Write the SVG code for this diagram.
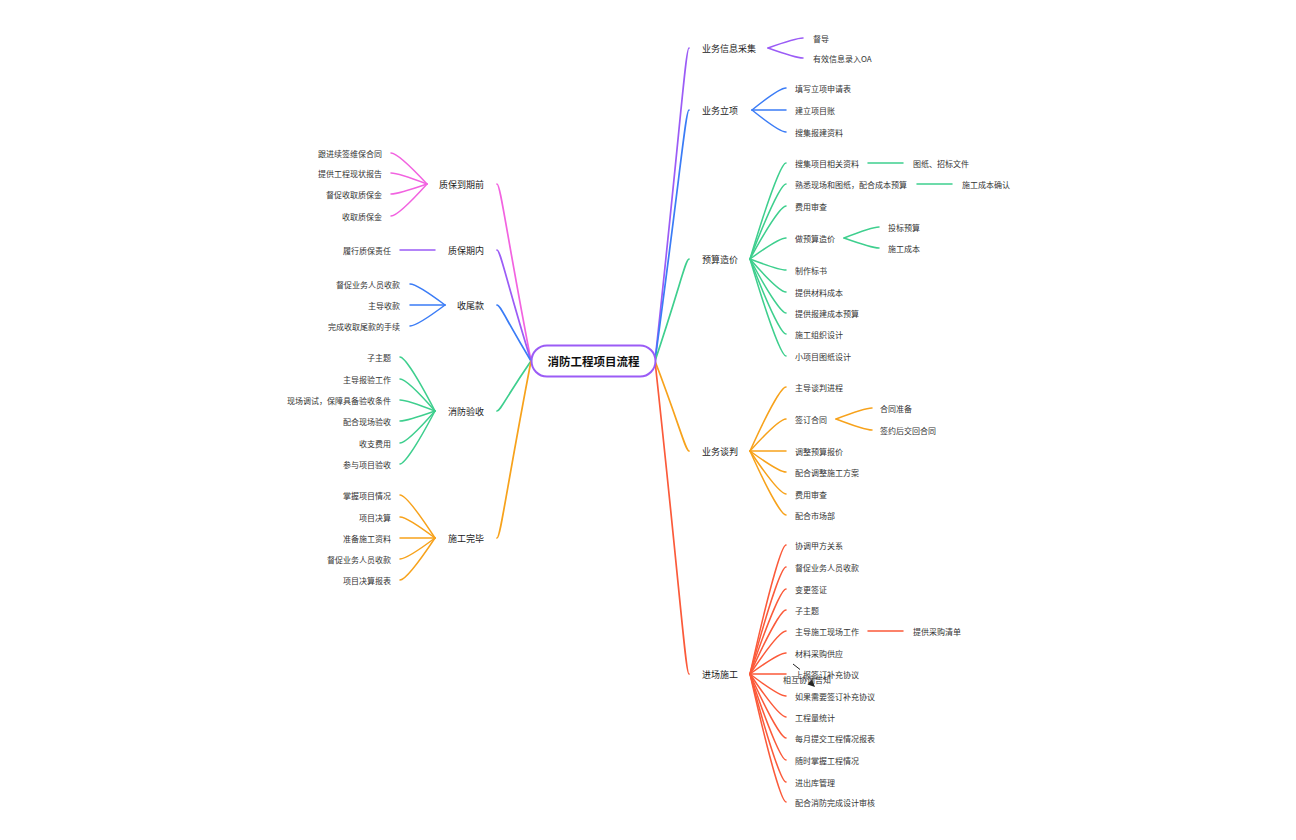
<svg xmlns="http://www.w3.org/2000/svg" width="1296" height="840" viewBox="0 0 1296 840">
<style>
  .ln{fill:none;stroke-width:1.5;stroke-linecap:round}
  .mn{fill:none;stroke-width:1.7;stroke-linecap:round}
  .pu{stroke:#9b5cf6}.bl{stroke:#3b7cf6}.gr{stroke:#3ecf8e}.or{stroke:#f7a21b}.rd{stroke:#fb5a3a}.pk{stroke:#f263e0}
  text{font-family:"Noto Sans CJK SC","Noto Sans",sans-serif;dominant-baseline:central}
  .t1{font-size:9px;fill:#222}
  .t2{font-size:8px;fill:#333}
  .e{text-anchor:end}
  .root{font-size:11.5px;font-weight:bold;fill:#111;text-anchor:middle}
</style>
<rect width="1296" height="840" fill="#ffffff"/>
<g id="connectors">
  <!-- root to right -->
  <path class="mn pu" d="M655,361 C680.5,126 685.6,48 689,48"/>
  <path class="mn bl" d="M655,361 C680.5,173 685.6,110 689,110"/>
  <path class="mn gr" d="M655,361 C680.5,285 685.6,259 689,259"/>
  <path class="mn or" d="M655,361 C680.5,428 685.6,451 689,451"/>
  <path class="mn rd" d="M655,361 C680.5,596 685.6,674 689,674"/>
  <!-- root to left -->
  <path class="mn pk" d="M531,361 C505.5,228 500.4,184 497,184"/>
  <path class="mn pu" d="M531,361 C505.5,278 500.4,250 497,250"/>
  <path class="mn bl" d="M531,361 C505.5,319 500.4,305 497,305"/>
  <path class="mn gr" d="M531,361 C505.5,398 500.4,411 497,411"/>
  <path class="mn or" d="M531,361 C505.5,494 500.4,538 497,538"/>
  <!-- r1 -->
  <path class="ln pu" d="M768,48 C789,40.5 799.5,38 803,38"/>
  <path class="ln pu" d="M768,48 C789,55.5 799.5,58 803,58"/>
  <!-- r2 -->
  <path class="ln bl" d="M752,110 C772.4,93.5 782.6,88 786,88"/>
  <path class="ln bl" d="M752,110 L786,110"/>
  <path class="ln bl" d="M752,110 C772.4,126.5 782.6,132 786,132"/>
  <!-- r3 -->
  <path class="ln gr" d="M750,259 C771.6,187 782.4,163 786,163"/>
  <path class="ln gr" d="M750,259 C771.6,202.75 782.4,184 786,184"/>
  <path class="ln gr" d="M750,259 C771.6,219.25 782.4,206 786,206"/>
  <path class="ln gr" d="M750,259 C771.6,243.25 782.4,238 786,238"/>
  <path class="ln gr" d="M750,259 C771.6,267.25 782.4,270 786,270"/>
  <path class="ln gr" d="M750,259 C771.6,283.75 782.4,292 786,292"/>
  <path class="ln gr" d="M750,259 C771.6,299.5 782.4,313 786,313"/>
  <path class="ln gr" d="M750,259 C771.6,315.25 782.4,334 786,334"/>
  <path class="ln gr" d="M750,259 C771.6,331.75 782.4,356 786,356"/>
  <path class="ln gr" d="M868,163 L903,163"/>
  <path class="ln gr" d="M917,184 L952,184"/>
  <path class="ln gr" d="M844,238 C865,229.75 875.5,227 879,227"/>
  <path class="ln gr" d="M844,238 C865,245.5 875.5,248 879,248"/>
  <!-- r4 -->
  <path class="ln or" d="M750,451 C771.6,403 782.4,387 786,387"/>
  <path class="ln or" d="M750,451 C771.6,427 782.4,419 786,419"/>
  <path class="ln or" d="M750,451 L786,451"/>
  <path class="ln or" d="M750,451 C771.6,466.75 782.4,472 786,472"/>
  <path class="ln or" d="M750,451 C771.6,483.25 782.4,494 786,494"/>
  <path class="ln or" d="M750,451 C771.6,499 782.4,515 786,515"/>
  <path class="ln or" d="M836,419 C857.6,410.75 868.4,408 872,408"/>
  <path class="ln or" d="M836,419 C857.6,427.25 868.4,430 872,430"/>
  <!-- r5 -->
  <path class="ln rd" d="M750,674 C771.6,577.25 782.4,545 786,545"/>
  <path class="ln rd" d="M750,674 C771.6,593.75 782.4,567 786,567"/>
  <path class="ln rd" d="M750,674 C771.6,610.25 782.4,589 786,589"/>
  <path class="ln rd" d="M750,674 C771.6,626 782.4,610 786,610"/>
  <path class="ln rd" d="M750,674 C771.6,641.75 782.4,631 786,631"/>
  <path class="ln rd" d="M750,674 C771.6,658.25 782.4,653 786,653"/>
  <path class="ln rd" d="M750,674 L786,674"/>
  <path class="ln rd" d="M750,674 C771.6,690.5 782.4,696 786,696"/>
  <path class="ln rd" d="M750,674 C771.6,706.25 782.4,717 786,717"/>
  <path class="ln rd" d="M750,674 C771.6,722 782.4,738 786,738"/>
  <path class="ln rd" d="M750,674 C771.6,738.5 782.4,760 786,760"/>
  <path class="ln rd" d="M750,674 C771.6,755 782.4,782 786,782"/>
  <path class="ln rd" d="M750,674 C771.6,770 782.4,802 786,802"/>
  <path class="ln rd" d="M868,631 L903,631"/>
  <!-- l1 -->
  <path class="ln pk" d="M427,184 C405.4,160.75 394.6,153 391,153"/>
  <path class="ln pk" d="M427,184 C405.4,175.75 394.6,173 391,173"/>
  <path class="ln pk" d="M427,184 C405.4,191.5 394.6,194 391,194"/>
  <path class="ln pk" d="M427,184 C405.4,208 394.6,216 391,216"/>
  <!-- l2 -->
  <path class="ln pu" d="M435,250 L400,250"/>
  <!-- l3 -->
  <path class="ln bl" d="M445,305 C424,289.25 413.5,284 410,284"/>
  <path class="ln bl" d="M445,305 L410,305"/>
  <path class="ln bl" d="M445,305 C424,320.75 413.5,326 410,326"/>
  <!-- l4 -->
  <path class="ln gr" d="M435,411 C414,370.5 403.5,357 400,357"/>
  <path class="ln gr" d="M435,411 C414,387 403.5,379 400,379"/>
  <path class="ln gr" d="M435,411 C414,402.75 403.5,400 400,400"/>
  <path class="ln gr" d="M435,411 C414,418.5 403.5,421 400,421"/>
  <path class="ln gr" d="M435,411 C414,435 403.5,443 400,443"/>
  <path class="ln gr" d="M435,411 C414,450.75 403.5,464 400,464"/>
  <!-- l5 -->
  <path class="ln or" d="M435,538 C414,505.75 403.5,495 400,495"/>
  <path class="ln or" d="M435,538 C414,522.25 403.5,517 400,517"/>
  <path class="ln or" d="M435,538 L400,538"/>
  <path class="ln or" d="M435,538 C414,553.75 403.5,559 400,559"/>
  <path class="ln or" d="M435,538 C414,569.5 403.5,580 400,580"/>
  <!-- relationship fragment -->
  <path d="M793,664 L800,669.5" fill="none" stroke="#222" stroke-width="1"/>
  <polygon points="815,687 807.5,684.5 812,679.5" fill="#222"/>
</g>
<g id="root">
  <rect x="531.5" y="345.5" width="124" height="31" rx="15.5" fill="#ffffff" stroke="#9b5cf6" stroke-width="2"/>
  <text class="root" x="593.5" y="361">消防工程项目流程</text>
</g>
<g id="n-r1"><text class="t1" x="702" y="48">业务信息采集</text>
  <text class="t2" x="813" y="38">督导</text>
  <text class="t2" x="813" y="58">有效信息录入OA</text></g>
<g id="n-r2"><text class="t1" x="702" y="110">业务立项</text>
  <text class="t2" x="795" y="88">填写立项申请表</text>
  <text class="t2" x="795" y="110">建立项目账</text>
  <text class="t2" x="795" y="132">搜集报建资料</text></g>
<g id="n-r3"><text class="t1" x="702" y="259">预算造价</text>
  <text class="t2" x="795" y="163">搜集项目相关资料</text>
  <text class="t2" x="913" y="163">图纸、招标文件</text>
  <text class="t2" x="795" y="184">熟悉现场和图纸，配合成本预算</text>
  <text class="t2" x="962" y="184">施工成本确认</text>
  <text class="t2" x="795" y="206">费用审查</text>
  <text class="t2" x="795" y="238">做预算造价</text>
  <text class="t2" x="888" y="227">投标预算</text>
  <text class="t2" x="888" y="248">施工成本</text>
  <text class="t2" x="795" y="270">制作标书</text>
  <text class="t2" x="795" y="292">提供材料成本</text>
  <text class="t2" x="795" y="313">提供报建成本预算</text>
  <text class="t2" x="795" y="334">施工组织设计</text>
  <text class="t2" x="795" y="356">小项目图纸设计</text></g>
<g id="n-r4"><text class="t1" x="702" y="451">业务谈判</text>
  <text class="t2" x="795" y="387">主导谈判进程</text>
  <text class="t2" x="795" y="419">签订合同</text>
  <text class="t2" x="880" y="408">合同准备</text>
  <text class="t2" x="880" y="430">签约后交回合同</text>
  <text class="t2" x="795" y="451">调整预算报价</text>
  <text class="t2" x="795" y="472">配合调整施工方案</text>
  <text class="t2" x="795" y="494">费用审查</text>
  <text class="t2" x="795" y="515">配合市场部</text></g>
<g id="n-r5"><text class="t1" x="702" y="674">进场施工</text>
  <text class="t2" x="795" y="545">协调甲方关系</text>
  <text class="t2" x="795" y="567">督促业务人员收款</text>
  <text class="t2" x="795" y="589">变更签证</text>
  <text class="t2" x="795" y="610">子主题</text>
  <text class="t2" x="795" y="631">主导施工现场工作</text>
  <text class="t2" x="913" y="631">提供采购清单</text>
  <text class="t2" x="795" y="653">材料采购供应</text>
  <text class="t2" x="795" y="674">上报签订补充协议</text>
  <text class="t2" x="783" y="679">相互协调告知</text>
  <text class="t2" x="795" y="696">如果需要签订补充协议</text>
  <text class="t2" x="795" y="717">工程量统计</text>
  <text class="t2" x="795" y="738">每月提交工程情况报表</text>
  <text class="t2" x="795" y="760">随时掌握工程情况</text>
  <text class="t2" x="795" y="782">进出库管理</text>
  <text class="t2" x="795" y="802">配合消防完成设计审核</text></g>
<g id="n-l1"><text class="t1 e" x="484" y="184">质保到期前</text>
  <text class="t2 e" x="382" y="153">跟进续签维保合同</text>
  <text class="t2 e" x="382" y="173">提供工程现状报告</text>
  <text class="t2 e" x="382" y="194">督促收取质保金</text>
  <text class="t2 e" x="382" y="216">收取质保金</text></g>
<g id="n-l2"><text class="t1 e" x="484" y="250">质保期内</text>
  <text class="t2 e" x="391" y="250">履行质保责任</text></g>
<g id="n-l3"><text class="t1 e" x="484" y="305">收尾款</text>
  <text class="t2 e" x="400" y="284">督促业务人员收款</text>
  <text class="t2 e" x="400" y="305">主导收款</text>
  <text class="t2 e" x="400" y="326">完成收取尾款的手续</text></g>
<g id="n-l4"><text class="t1 e" x="484" y="411">消防验收</text>
  <text class="t2 e" x="391" y="357">子主题</text>
  <text class="t2 e" x="391" y="379">主导报验工作</text>
  <text class="t2 e" x="391" y="400">现场调试，保障具备验收条件</text>
  <text class="t2 e" x="391" y="421">配合现场验收</text>
  <text class="t2 e" x="391" y="443">收支费用</text>
  <text class="t2 e" x="391" y="464">参与项目验收</text></g>
<g id="n-l5"><text class="t1 e" x="484" y="538">施工完毕</text>
  <text class="t2 e" x="391" y="495">掌握项目情况</text>
  <text class="t2 e" x="391" y="517">项目决算</text>
  <text class="t2 e" x="391" y="538">准备施工资料</text>
  <text class="t2 e" x="391" y="559">督促业务人员收款</text>
  <text class="t2 e" x="391" y="580">项目决算报表</text></g>
</svg>
